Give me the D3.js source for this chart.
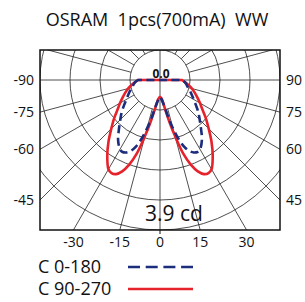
<!DOCTYPE html>
<html lang="en">
<head>
<meta charset="UTF-8">
<title>OSRAM polar candela</title>
<script src="https://d3js.org/d3.v7.min.js"></script>
<style>
  body { margin: 0; background: #fff; }
  text { font-family: "Open Sans", sans-serif; fill: #111; }
</style>
</head>
<body>
<div id="chart"></div>
<script>
    // angles from nadir (deg), one half; the other half is mirrored
    const angles = [0, 5, 10, 12.5, 15, 17.5, 20, 22.5, 25, 27.5, 30, 35, 40, 45, 50, 55, 60, 65, 70, 75, 80, 85, 90];
    // intensity in cd
    const c0_180 = [0.44, 0.52, 0.73, 0.99, 1.30, 1.61, 1.85, 2.00, 2.08, 2.11, 2.08, 1.90, 1.66, 1.46, 1.30, 1.14, 1.01, 0.91, 0.83, 0.75, 0.70, 0.65, 0.57];
    const c90_270 = [0.44, 0.49, 0.78, 1.09, 1.51, 2.00, 2.34, 2.57, 2.70, 2.73, 2.68, 2.39, 2.08, 1.79, 1.56, 1.35, 1.20, 1.07, 0.96, 0.86, 0.75, 0.65, 0.57];
    const maxCd = 3.9;
    const sideTicks = [90, 75, 60, 45];
    const bottomTicks = [-30, -15, 0, 15, 30];
    const seriesNames = ["C 0-180", "C 90-270"];

    const W = 305, H = 302;
    const frame = { left: 40, right: 280, top: 50, bottom: 230 };
    const cx = 160, cy = 80;

    const r = d3.scaleLinear().domain([0, maxCd]).range([0, 150]);
    const rings = d3.range(1, 6).map(i => i * maxCd / 5);
    const rad = d => d * Math.PI / 180;

    const svg = d3.select("#chart").append("svg")
        .attr("width", W).attr("height", H);

    svg.append("clipPath").attr("id", "clip")
        .append("rect")
        .attr("x", frame.left).attr("y", frame.top)
        .attr("width", frame.right - frame.left)
        .attr("height", frame.bottom - frame.top);

    const grid = svg.append("g").attr("clip-path", "url(#clip)");
    const plot = grid.append("g").attr("transform", `translate(${cx},${cy})`);

    // rings
    plot.selectAll("circle.ring")
        .data(rings)
        .enter().append("circle")
        .attr("class", "ring")
        .attr("r", d => r(d))
        .attr("fill", "none")
        .attr("stroke", "#222")
        .attr("stroke-width", 0.8);

    // spokes every 15 deg, starting at first ring (axes go through centre)
    const spokes = d3.range(0, 360, 15);
    plot.selectAll("line.spoke")
        .data(spokes)
        .enter().append("line")
        .attr("class", "spoke")
        .attr("x1", d => (d % 90 === 0 ? 0 : r(rings[0])) * Math.sin(rad(d)))
        .attr("y1", d => (d % 90 === 0 ? 0 : r(rings[0])) * Math.cos(rad(d)))
        .attr("x2", d => 400 * Math.sin(rad(d)))
        .attr("y2", d => 400 * Math.cos(rad(d)))
        .attr("stroke", "#222")
        .attr("stroke-width", 0.8);

    // curves
    function fullCurve(vals) {
        const pts = [];
        for (let i = angles.length - 1; i > 0; i--) pts.push([-angles[i], vals[i]]);
        for (let i = 0; i < angles.length; i++) pts.push([angles[i], vals[i]]);
        return pts;
    }
    const line = d3.lineRadial()
        .angle(d => Math.PI - rad(d[0]))
        .radius(d => r(d[1]))
        .curve(d3.curveCatmullRom.alpha(0.5));

    plot.append("path")
        .attr("d", line(fullCurve(c90_270)) + "Z")
        .attr("fill", "none")
        .attr("stroke", "#e6222b")
        .attr("stroke-width", 2.6);

    plot.append("path")
        .attr("d", line(fullCurve(c0_180)) + "Z")
        .attr("fill", "none")
        .attr("stroke", "#1d2d7e")
        .attr("stroke-width", 2.6)
        .attr("stroke-dasharray", "8,4.5");

    // frame
    svg.append("rect")
        .attr("x", frame.left).attr("y", frame.top)
        .attr("width", frame.right - frame.left)
        .attr("height", frame.bottom - frame.top)
        .attr("fill", "none")
        .attr("stroke", "#111")
        .attr("stroke-width", 1.5);

    // side labels where spokes meet the frame
    const halfW = frame.right - cx;
    svg.selectAll("text.left")
        .data(sideTicks)
        .enter().append("text")
        .attr("class", "left")
        .attr("x", frame.left - 6)
        .attr("y", d => cy + halfW / Math.tan(rad(d)))
        .attr("dy", "0.35em")
        .attr("text-anchor", "end")
        .style("font-size", "14px")
        .text(d => "-" + d);

    svg.selectAll("text.right")
        .data(sideTicks)
        .enter().append("text")
        .attr("class", "right")
        .attr("x", frame.right + 6)
        .attr("y", d => cy + halfW / Math.tan(rad(d)))
        .attr("dy", "0.35em")
        .attr("text-anchor", "start")
        .style("font-size", "14px")
        .text(d => d);

    const depth = frame.bottom - cy;
    svg.selectAll("text.bottom")
        .data(bottomTicks)
        .enter().append("text")
        .attr("class", "bottom")
        .attr("x", d => cx + depth * Math.tan(rad(d)))
        .attr("y", frame.bottom + 12)
        .attr("dy", "0.35em")
        .attr("text-anchor", "middle")
        .style("font-size", "14px")
        .text(d => d);

    svg.append("line")
        .attr("x1", cx).attr("x2", cx)
        .attr("y1", frame.bottom).attr("y2", frame.bottom + 4)
        .attr("stroke", "#111");

    svg.append("text")
        .attr("x", cx + 1).attr("y", cy - 2)
        .attr("text-anchor", "middle")
        .style("font-size", "12px")
        .style("font-weight", "bold")
        .text("0.0");

    svg.append("text")
        .attr("x", 174).attr("y", 221)
        .attr("text-anchor", "middle")
        .style("font-size", "21px")
        .text(maxCd + " cd");

    // title
    svg.append("text")
        .attr("x", 157).attr("y", 26)
        .attr("text-anchor", "middle")
        .style("font-size", "18px")
        .style("white-space", "pre")
        .text("OSRAM  1pcs(700mA)  WW");

    // legend
    const legend = svg.append("g");
    const legY = [267, 289];
    seriesNames.forEach((name, i) => {
        legend.append("text")
            .attr("x", 38).attr("y", legY[i])
            .attr("dy", "0.35em")
            .style("font-size", "18px")
            .text(name);
        legend.append("line")
            .attr("x1", 128).attr("x2", 193)
            .attr("y1", legY[i]).attr("y2", legY[i])
            .attr("stroke", i === 0 ? "#1d2d7e" : "#e6222b")
            .attr("stroke-width", 2.6)
            .attr("stroke-dasharray", i === 0 ? "12,5.7" : null);
    });
</script>
</body>
</html>
